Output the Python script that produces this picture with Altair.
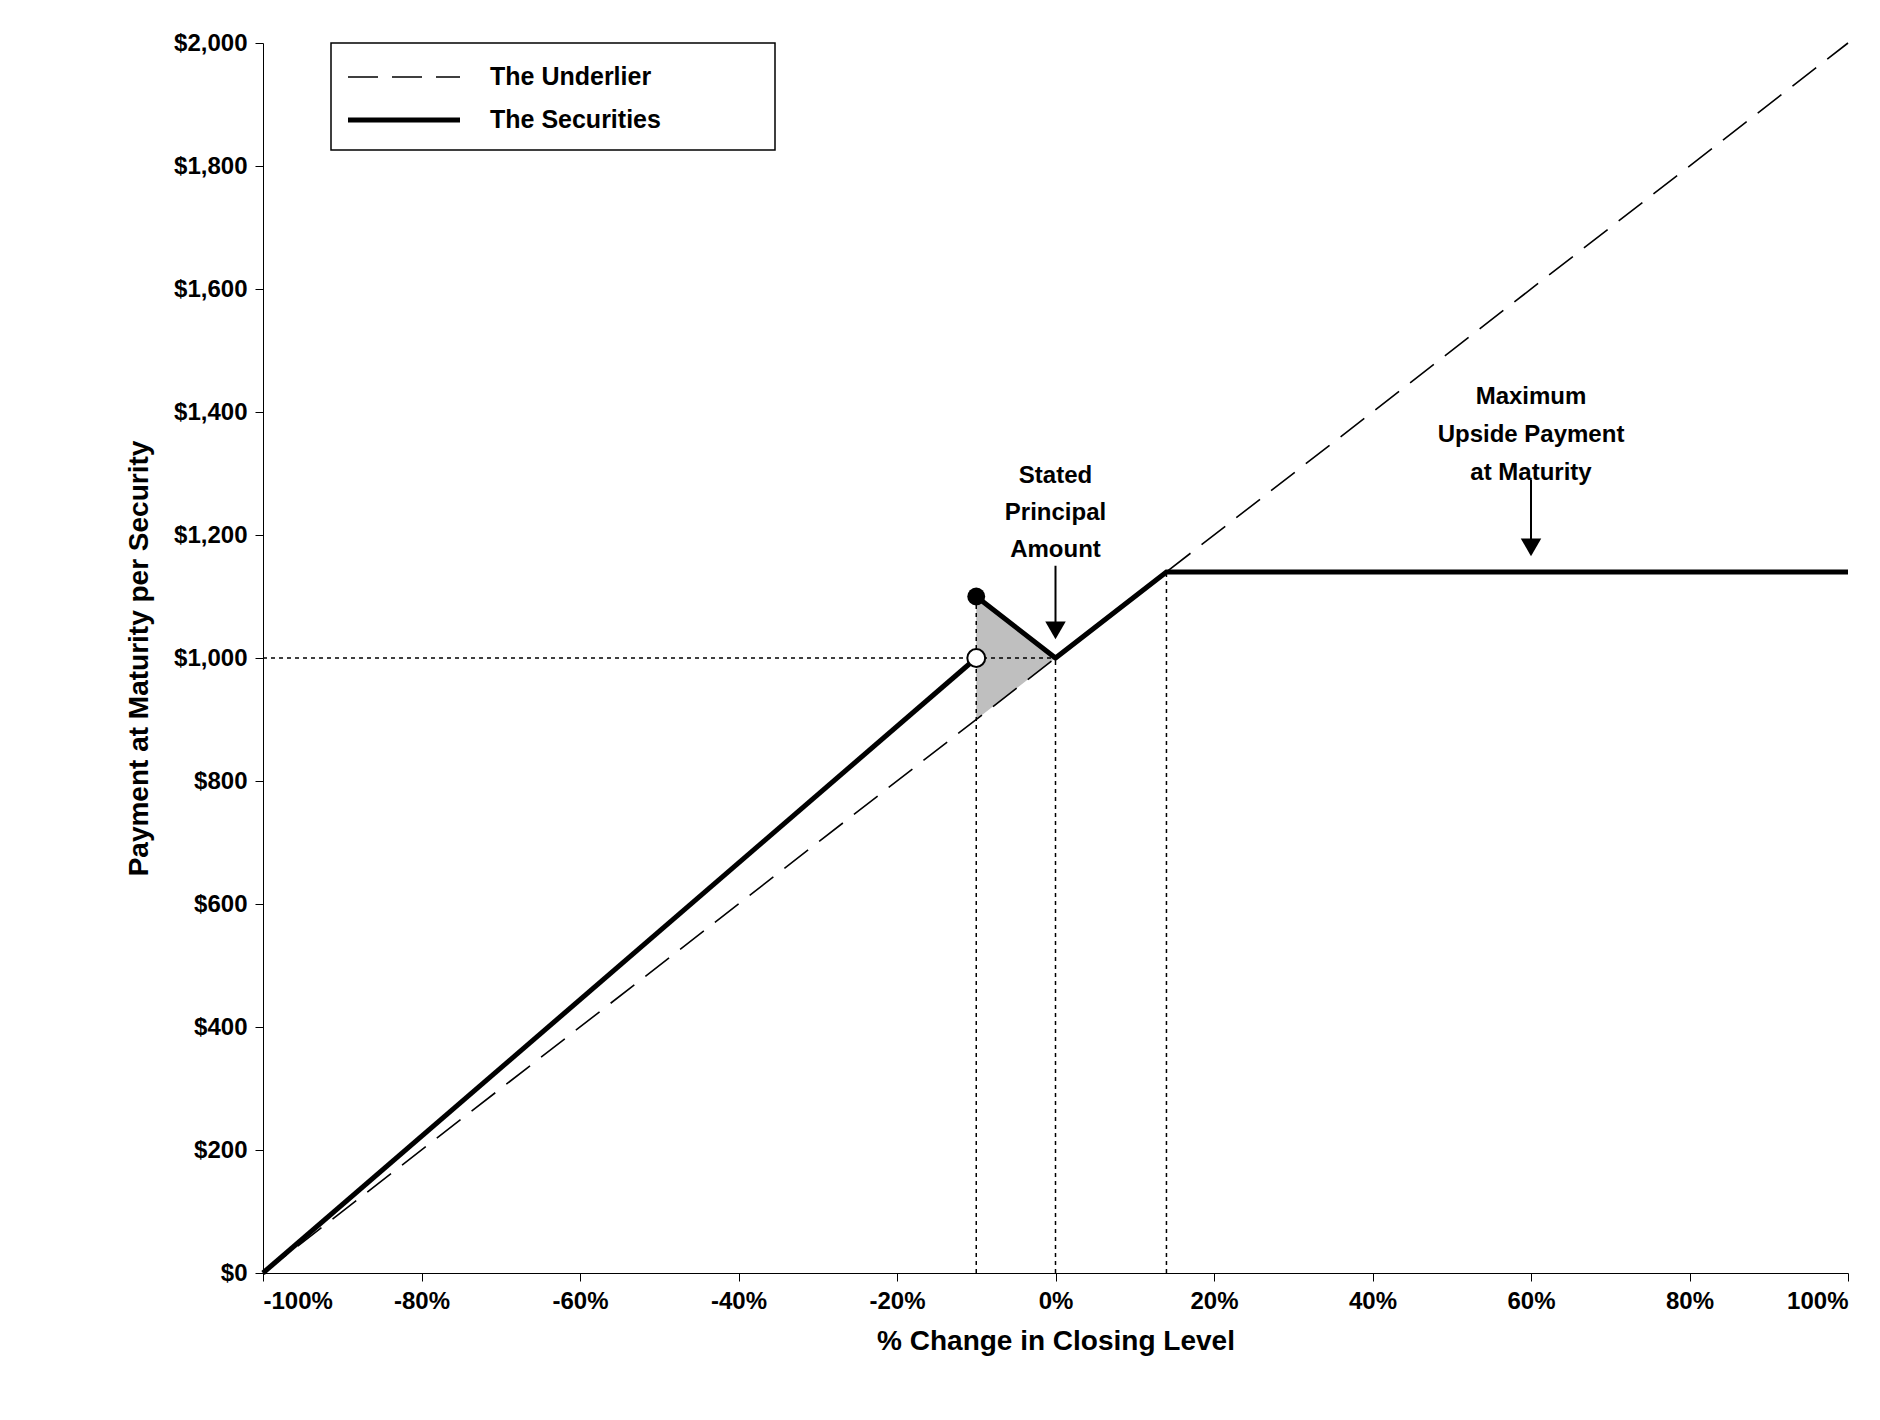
import altair as alt
import pandas as pd

# Payoff data (% change in closing level, payment per security)
under_x = [-100, 100]
under_y = [0, 2000]
sec_x = [-100, -10, -10, 0, 14, 100]
sec_y = [0, 1000, 1100, 1000, 1140, 1140]
sec_seg = [0, 0, 1, 1, 1, 1]
shade_x = [-10, 0]
shade_top = [1100, 1000]
shade_bot = [900, 1000]

FONT = "Liberation Sans"
xs = alt.Scale(domain=[-100, 100], nice=False)
ys = alt.Scale(domain=[0, 2000], nice=False)

X = lambda f="x": alt.X(f"{f}:Q", scale=xs)
Y = lambda f="y": alt.Y(f"{f}:Q", scale=ys)

base_x = alt.X("x:Q", scale=xs, title="% Change in Closing Level",
               axis=alt.Axis(values=list(range(-100, 101, 20)), labelExpr="datum.value + '%'",
                             grid=False, domainColor="black", tickColor="black", tickSize=8,
                             labelFontSize=24, labelFontWeight="bold", labelColor="black", labelPadding=8,
                             titleFontSize=28, titleFontWeight="bold", titlePadding=14, titleColor="black"))
base_y = alt.Y("y:Q", scale=ys, title="Payment at Maturity per Security",
               axis=alt.Axis(values=list(range(0, 2001, 200)), format="$,.0f",
                             grid=False, domainColor="black", tickColor="black", tickSize=8,
                             labelFontSize=24, labelFontWeight="bold", labelColor="black", labelPadding=8,
                             titleFontSize=28, titleFontWeight="bold", titlePadding=20, titleColor="black"))

shade = alt.Chart(pd.DataFrame({"x": shade_x, "y": shade_top, "y2": shade_bot})).mark_area(
    color="#bfbfbf", opacity=1).encode(x=base_x, y=base_y, y2="y2:Q")

dotted = pd.DataFrame({"x": [-100, -10, 0, 14], "x2": [0, -10, 0, 14],
                       "y": [1000, 0, 0, 0], "y2": [1000, 1100, 1000, 1140]})
guides = alt.Chart(dotted).mark_rule(color="black", strokeDash=[4, 4], strokeWidth=1.5).encode(
    x=X(), x2="x2:Q", y=Y(), y2="y2:Q")

under = alt.Chart(pd.DataFrame({"x": under_x, "y": under_y})).mark_line(
    color="black", strokeDash=[30, 14], strokeWidth=1.6).encode(x=X(), y=Y())

sec = alt.Chart(pd.DataFrame({"x": sec_x, "y": sec_y, "s": sec_seg})).mark_line(
    color="black", strokeWidth=5).encode(x=X(), y=Y(), detail="s:N")

dot_full = alt.Chart(pd.DataFrame({"x": [-10], "y": [1100]})).mark_point(
    filled=True, color="black", size=320, opacity=1).encode(x=X(), y=Y())
dot_open = alt.Chart(pd.DataFrame({"x": [-10], "y": [1000]})).mark_point(
    filled=True, fill="white", stroke="black", strokeWidth=2, size=320, opacity=1).encode(x=X(), y=Y())

arrows = pd.DataFrame({"x": [0, 60], "y": [1150, 1290], "y2": [1050, 1185]})
arrow_shaft = alt.Chart(arrows).mark_rule(color="black", strokeWidth=2).encode(x=X(), y=Y(), y2="y2:Q")
arrow_tip = alt.Chart(pd.DataFrame({"x": [0, 60], "y": [1045, 1180]})).mark_point(
    shape="triangle-down", filled=True, color="black", size=420, opacity=1).encode(x=X(), y=Y())

notes = pd.DataFrame({
    "x": [0, 0, 0, 60, 60, 60],
    "y": [1296, 1235, 1175, 1424, 1362, 1301],
    "t": ["Stated", "Principal", "Amount", "Maximum", "Upside Payment", "at Maturity"],
})
note_text = alt.Chart(notes).mark_text(font=FONT, fontSize=24, fontWeight="bold", color="black",
                                       baseline="middle").encode(x=X(), y=Y(), text="t:N")

# legend box drawn in pixel space
one = pd.DataFrame({"a": [0]})
legend_box = alt.Chart(one).mark_rect(fill="white", stroke="black", strokeWidth=1.5).encode(
    x=alt.value(68), x2=alt.value(512), y=alt.value(0), y2=alt.value(107))
leg_dash = alt.Chart(one).mark_rule(color="black", strokeDash=[30, 14], strokeWidth=1.6).encode(
    x=alt.value(85), x2=alt.value(197), y=alt.value(34))
leg_solid = alt.Chart(one).mark_rule(color="black", strokeWidth=5).encode(
    x=alt.value(85), x2=alt.value(197), y=alt.value(77))
leg_t1 = alt.Chart(one).mark_text(font=FONT, fontSize=25, fontWeight="bold", color="black", align="left",
                                  baseline="middle", text="The Underlier").encode(
    x=alt.value(227), y=alt.value(34))
leg_t2 = alt.Chart(one).mark_text(font=FONT, fontSize=25, fontWeight="bold", color="black", align="left",
                                  baseline="middle", text="The Securities").encode(
    x=alt.value(227), y=alt.value(77))

chart = alt.layer(
    shade, guides, under, sec, dot_full, dot_open, arrow_shaft, arrow_tip, note_text,
    legend_box, leg_dash, leg_solid, leg_t1, leg_t2
).properties(
    width=1585, height=1230, autosize=alt.AutoSizeParams(type="none"),
    padding={"left": 255, "top": 35, "right": 24, "bottom": 130}
).configure_view(stroke=None).configure_axis(labelFont=FONT, titleFont=FONT)

chart.save("out.html", embed_options={"renderer": "svg", "actions": False})
